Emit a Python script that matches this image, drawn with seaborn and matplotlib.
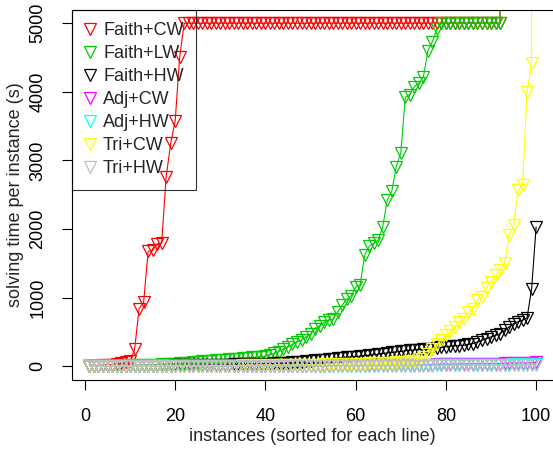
import matplotlib
matplotlib.use("Agg")
import pandas as pd
import seaborn as sns
import matplotlib.pyplot as plt
from matplotlib.lines import Line2D

# instance index (x axis), 100 instances per line
instances = list(range(1, 101))

names = ["Faith+CW", "Faith+LW", "Faith+HW", "Adj+CW", "Adj+HW", "Tri+CW", "Tri+HW"]
colors = ["#FF0000", "#00CD00", "#000000", "#FF00FF", "#00FFFF", "#FFFF00", "#BEBEBE"]

# values above 5200 are unsolved instances, they run off the top of the plot
faith_cw = [3, 5, 8, 12, 18, 25, 33, 45, 60, 75,
            245, 840, 930, 1675, 1690, 1780, 1800, 2760, 3250, 3580,
            4510, 5000, 5000, 5000, 5000, 5000, 5000, 5000, 5000, 5000,
            5000, 5000, 5000, 5000, 5000, 5000, 5000, 5000, 5000, 5000,
            5000, 5000, 5000, 5000, 5000, 5000, 5000, 5000, 5000, 5000,
            5000, 5000, 5000, 5000, 5000, 5000, 5000, 5000, 5000, 5000,
            5000, 5000, 5000, 5000, 5000, 5000, 5000, 5000, 5000, 5000,
            5000, 5000, 5000, 5000, 5000, 5000, 5000, 5000, 5000, 5000,
            5000, 5000, 5000, 5000, 5000, 5000, 5000, 5000, 5000, 5000,
            5000, 5000, 100000, 100000, 100000, 100000, 100000, 100000, 100000, 100000]
faith_lw = [2, 3, 4, 5, 6, 7, 8, 9, 10, 12,
            14, 16, 18, 20, 22, 25, 28, 31, 35, 40,
            45, 50, 55, 60, 65, 70, 75, 80, 85, 90,
            95, 100, 105, 110, 115, 120, 128, 135, 142, 150,
            165, 190, 215, 250, 280, 320, 355, 380, 430, 470,
            550, 590, 640, 670, 690, 790, 890, 975, 1030, 1150,
            1190, 1620, 1750, 1790, 1840, 2030, 2420, 2550, 2910, 3110,
            3920, 3960, 4075, 4130, 4210, 4600, 4730, 4920, 5000, 5000,
            5000, 5000, 5000, 5000, 5000, 5000, 5000, 5000, 5000, 5000,
            5000, 5000, 100000, 100000, 100000, 100000, 100000, 100000, 100000, 100000]
faith_hw = [1, 1, 2, 2, 3, 3, 4, 4, 5, 5,
            6, 6, 7, 8, 8, 9, 10, 10, 11, 12,
            12, 13, 14, 15, 16, 17, 18, 19, 20, 22,
            24, 25, 26, 27, 28, 30, 32, 34, 36, 38,
            40, 42, 45, 48, 52, 56, 60, 66, 72, 78,
            85, 92, 98, 104, 112, 118, 124, 130, 136, 142,
            148, 154, 160, 168, 176, 185, 195, 202, 209, 216,
            225, 232, 238, 243, 248, 252, 258, 266, 276, 285,
            292, 298, 302, 306, 318, 331, 355, 379, 404, 428,
            452, 476, 525, 573, 622, 650, 671, 710, 1133, 2032]
adj_cw = [0, 0, 0, 0, 0, 1, 1, 1, 1, 1,
          1, 1, 1, 1, 2, 2, 2, 2, 2, 2,
          2, 2, 3, 3, 3, 3, 3, 3, 4, 4,
          4, 4, 4, 5, 5, 5, 5, 6, 6, 6,
          6, 7, 7, 7, 8, 8, 8, 9, 9, 10,
          10, 10, 11, 11, 12, 12, 13, 13, 14, 14,
          15, 15, 16, 16, 17, 17, 18, 18, 19, 20,
          20, 21, 22, 22, 23, 24, 25, 26, 27, 28,
          29, 30, 31, 32, 33, 34, 35, 36, 37, 38,
          39, 40, 41, 42, 43, 44, 46, 48, 52, 62]
adj_hw = [0, 0, 0, 0, 0, 0, 0, 1, 1, 1,
          1, 1, 1, 1, 1, 1, 2, 2, 2, 2,
          2, 2, 2, 2, 3, 3, 3, 3, 3, 3,
          3, 4, 4, 4, 4, 4, 4, 5, 5, 5,
          5, 5, 6, 6, 6, 6, 6, 7, 7, 7,
          7, 8, 8, 8, 8, 9, 9, 9, 10, 10,
          10, 11, 11, 11, 12, 12, 12, 13, 13, 14,
          14, 14, 15, 15, 16, 16, 17, 17, 18, 18,
          19, 19, 20, 20, 21, 21, 22, 22, 23, 23,
          24, 24, 25, 25, 26, 27, 28, 29, 31, 35]
tri_cw = [0, 0, 1, 1, 1, 1, 2, 2, 2, 2,
          3, 3, 3, 3, 4, 4, 4, 5, 5, 5,
          6, 6, 6, 7, 7, 7, 8, 8, 9, 9,
          10, 10, 11, 11, 12, 12, 13, 13, 14, 15,
          15, 16, 17, 17, 18, 19, 20, 21, 22, 23,
          24, 25, 26, 27, 28, 29, 30, 32, 34, 36,
          38, 40, 42, 44, 46, 48, 50, 53, 56, 60,
          66, 72, 80, 100, 130, 180, 250, 320, 379, 452,
          515, 573, 646, 695, 792, 842, 963, 1011, 1148, 1230,
          1328, 1400, 1498, 1911, 2057, 2570, 2640, 4000, 4420, 100000]
tri_hw = [0, 0, 0, 0, 0, 0, 0, 0, 0, 0,
          0, 0, 1, 1, 1, 1, 1, 1, 1, 1,
          1, 1, 1, 2, 2, 2, 2, 2, 2, 2,
          2, 2, 3, 3, 3, 3, 3, 3, 3, 3,
          4, 4, 4, 4, 4, 4, 5, 5, 5, 5,
          5, 5, 6, 6, 6, 6, 6, 7, 7, 7,
          7, 7, 8, 8, 8, 8, 9, 9, 9, 9,
          10, 10, 10, 10, 11, 11, 11, 12, 12, 12,
          13, 13, 13, 14, 14, 14, 15, 15, 16, 16,
          16, 17, 17, 18, 18, 19, 19, 20, 21, 23]

series = [faith_cw, faith_lw, faith_hw, adj_cw, adj_hw, tri_cw, tri_hw]

sns.set_style("white")
plt.rcParams["font.family"] = ["Liberation Sans", "DejaVu Sans"]
plt.rcParams["font.size"] = 13

fig = plt.figure(figsize=(5.53, 4.5), dpi=100)
ax = fig.add_axes([71.6 / 553, 70 / 450, 482.4 / 553, 370.5 / 450])

# one line per configuration, drawn in legend order
for name, vals, col in zip(names, series, colors):
    df = pd.DataFrame({"instance": instances, "time": vals})
    sns.lineplot(data=df, x="instance", y="time", ax=ax, color=col,
                 marker="v", markersize=8, markerfacecolor="none",
                 markeredgecolor=col, markeredgewidth=0.9, linewidth=0.8,
                 legend=False)

ax.set_xlim(-2.96, 103.96)
ax.set_ylim(-200, 5200)
ax.set_xticks([0, 20, 40, 60, 80, 100])
ax.set_yticks([0, 1000, 2000, 3000, 4000, 5000])
for lab in ax.get_yticklabels():
    lab.set_rotation(90)
    lab.set_va("center")
ax.tick_params(axis="both", direction="out", length=7.2, width=0.8,
               labelsize=13, left=True, bottom=True, colors="black")
ax.tick_params(axis="x", pad=13)
ax.tick_params(axis="y", pad=11)
for sp in ax.spines.values():
    sp.set_color("black")
    sp.set_linewidth(0.8)

ax.set_xlabel("instances (sorted for each line)", fontsize=13, labelpad=2)
ax.set_ylabel("solving time per instance (s)", fontsize=13, labelpad=4)

# legend box is see-through, the lines show inside it
handles = [Line2D([], [], linestyle="none", marker="v", markersize=8,
                  markerfacecolor="none", markeredgecolor=c, markeredgewidth=0.9)
           for c in colors]
leg = ax.legend(handles, names, loc="upper left", borderaxespad=0,
                fancybox=False, edgecolor="black", fontsize=13,
                handlelength=0.6, handletextpad=0.44, borderpad=0.7,
                labelspacing=0.33)
leg.get_frame().set_linewidth(0.8)
leg.get_frame().set_facecolor("none")

fig.savefig("out.png", dpi=100)
